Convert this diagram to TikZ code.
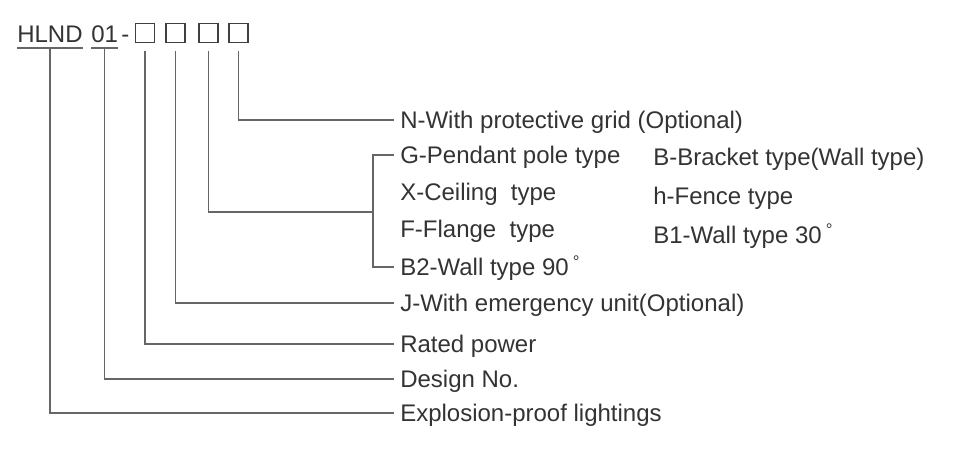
\documentclass[tikz,border=0pt]{standalone}
\usepackage{fontspec}
\setmainfont{Liberation Sans}
\usetikzlibrary{positioning}

\begin{document}
\begin{tikzpicture}[x=0.75pt, y=-0.75pt,
	% Define styles for the code, the slots and the labels
	every node/.style={font=\fontsize{18}{20}\selectfont, text=black!80},
	code/.style={anchor=base west, inner xsep=0pt, inner ysep=4.5pt, text depth=0pt},
	slot/.style={draw=black!75, line width=0.9pt, minimum size=14.3pt, inner sep=0pt},
	item/.style={anchor=west, inner xsep=4.5pt, inner ysep=0pt, text height=12.9pt, text depth=0pt},
	lead/.style={draw=black!60, line width=1.3pt}
	]
	\useasboundingbox (0,0) rectangle (954,468);
	
	% Model code
	\node[code] (hlnd) at (17,42) {HLND};
	\node[code] (num) at (91,42) {01};
	\node[code] (dash) at (121,42) {-};
	\node[slot] (s1) at (145,33) {};
	\node[slot] (s2) at (175.5,33) {};
	\node[slot] (s3) at (208.5,33) {};
	\node[slot] (s4) at (238.5,33) {};
	
	% Meanings
	\node[item] (grid) at (394,120) {N-With protective grid (Optional)};
	\node[item] (pole) at (394,155) {G-Pendant pole type};
	\node[item] (ceil) at (394,192) {X-Ceiling~ type};
	\node[item] (flng) at (394,229) {F-Flange~ type};
	\node[item] (w90) at (394,267) {B2-Wall type 90\,\textsuperscript{°}};
	\node[item] (brkt) at (647,157) {B-Bracket type(Wall type)};
	\node[item] (fence) at (647,196) {h-Fence type};
	\node[item] (w30) at (647,235) {B1-Wall type 30\,\textsuperscript{°}};
	\node[item] (emg) at (394,303) {J-With emergency unit(Optional)};
	\node[item] (rated) at (394,344) {Rated power};
	\node[item] (dsgn) at (394,379) {Design No.};
	\node[item] (expl) at (394,413) {Explosion-proof lightings};
	
	% --- Draw the leaders ---
	\coordinate (fork) at (373,212);
	\draw[lead] (hlnd.south west) -- (hlnd.south east);
	\draw[lead] (num.south west) -- (num.south east);
	\draw[lead] ([yshift=-6pt]s4.south) |- (grid.west);
	\draw[lead] (pole.west) -| (fork) |- (w90.west);
	\draw[lead] ([yshift=-6pt]s3.south) |- (fork);
	\draw[lead] ([yshift=-6pt]s2.south) |- (emg.west);
	\draw[lead] ([yshift=-6pt]s1.south) |- (rated.west);
	\draw[lead] (num.south) |- (dsgn.west);
	\draw[lead] (hlnd.south) |- (expl.west);
\end{tikzpicture}
\end{document}
